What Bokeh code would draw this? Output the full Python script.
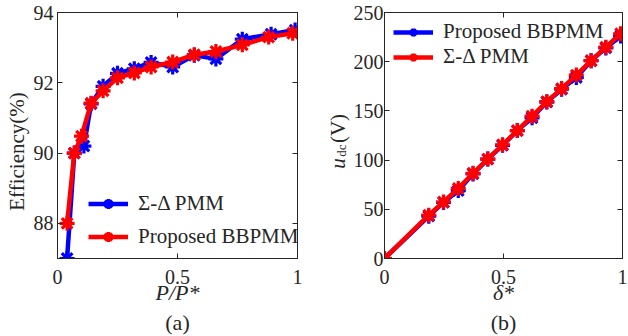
import math
from bokeh.plotting import figure
from bokeh.models import FixedTicker, LinearAxis, Range1d, Legend, LegendItem, Label, Title
from bokeh.layouts import row
from bokeh.embed import file_html
from bokeh.resources import INLINE

# ---------------- data: panel (a) ----------------
a_sd_x = [0.04, 0.07, 0.11, 0.14, 0.19, 0.25, 0.32, 0.39, 0.48, 0.57, 0.66, 0.77, 0.89, 0.99]
a_sd_y = [87.0, 90.0, 90.2, 91.4, 91.9, 92.27, 92.4, 92.58, 92.45, 92.78, 92.68, 93.24, 93.38, 93.5]
a_bb_x = [0.04, 0.07, 0.10, 0.14, 0.19, 0.25, 0.32, 0.39, 0.48, 0.57, 0.66, 0.77, 0.88, 0.98]
a_bb_y = [88.0, 90.0, 90.48, 91.42, 91.77, 92.14, 92.28, 92.45, 92.59, 92.8, 92.89, 93.08, 93.3, 93.41]
a_xticks = [0, 0.5, 1]
a_xtick_labels = ["0", "0.5", "1"]
a_yticks = [88, 90, 92, 94]
a_ytick_labels = ["88", "90", "92", "94"]

# ---------------- data: panel (b) ----------------
b_x = [0, 0.186, 0.248, 0.31, 0.372, 0.434, 0.496, 0.558, 0.62, 0.682, 0.744, 0.806, 0.868, 0.93, 0.992]
b_bb_y = [0, 43, 57, 69, 86, 101, 115, 130, 143, 159, 172, 184, 201, 214, 226]
b_sd_y = [0, 44, 57.4, 71.2, 86.6, 101, 115.6, 130, 144.6, 159.4, 172.7, 186.4, 201, 214.8, 228.4]
b_xticks = [0, 0.5, 1]
b_xtick_labels = ["0", "0.5", "1"]
b_yticks = [0, 50, 100, 150, 200, 250]
b_ytick_labels = ["0", "50", "100", "150", "200", "250"]

FONT = "Liberation Serif"
INK = "#262626"
BLUE = "#0000FF"
RED = "#FF0000"
H = 336
TOP = 12      # common frame top border (row aligns frames)
BOTTOM = 78   # common frame bottom border


def make_fig(width, xr, yr, xticks, xlabels, yticks, ylabels, bl, br, ystandoff):
    p = figure(width=width, height=H, x_range=Range1d(*xr), y_range=Range1d(*yr),
               output_backend="svg", toolbar_location=None,
               min_border_left=bl, min_border_right=br, min_border_top=TOP, min_border_bottom=BOTTOM)
    p.grid.visible = False
    p.outline_line_color = INK
    p.outline_line_width = 1
    for ax, ticks, labels in ((p.below[0], xticks, xlabels), (p.left[0], yticks, ylabels)):
        ax.ticker = FixedTicker(ticks=ticks)
        ax.major_label_overrides = {t: l for t, l in zip(ticks, labels)}
        ax.major_tick_in = 5
        ax.major_tick_out = 0
        ax.minor_tick_line_color = None
        ax.axis_line_color = INK
        ax.major_tick_line_color = INK
        ax.major_label_text_font = FONT
        ax.major_label_text_font_size = "20px"
        ax.major_label_text_color = INK
    p.below[0].major_label_standoff = 11
    p.left[0].major_label_standoff = ystandoff
    # mirrored box axes (ticks only, labels not drawn)
    for side, ticks in (("above", xticks), ("right", yticks)):
        ax = LinearAxis(ticker=FixedTicker(ticks=ticks))
        ax.major_tick_in = 5
        ax.major_tick_out = 0
        ax.minor_tick_line_color = None
        ax.axis_line_color = INK
        ax.major_tick_line_color = INK
        ax.major_label_text_font_size = "1px"
        ax.major_label_text_color = None
        ax.major_label_standoff = 0
        p.add_layout(ax, side)
    return p


def add_series(p, x, y, color):
    lr = p.line(x, y, line_color=color, line_width=4.5)
    sr = p.scatter(x, y, marker="asterisk", size=15, line_color=color, line_width=3.2)
    return [lr, sr]


def style_xlabel(p, text):
    ax = p.below[0]
    ax.axis_label = text
    ax.axis_label_text_font = FONT
    ax.axis_label_text_font_style = "italic"
    ax.axis_label_text_font_size = "22px"
    ax.axis_label_text_color = INK
    ax.axis_label_standoff = -7


def label_fig(width, labels):
    f = figure(width=width, height=H, output_backend="svg", toolbar_location=None,
               x_axis_type=None, y_axis_type=None, min_border_left=0, min_border_right=0,
               min_border_top=TOP, min_border_bottom=BOTTOM)
    f.outline_line_color = None
    for lab in labels:
        f.add_layout(lab)
    return f


def vlabel(x, y, text, size, style="normal"):
    # x, y: centre of the rotated text, in pixels from the frame's bottom-left corner
    return Label(x=x, y=y, x_units="screen", y_units="screen", angle=math.pi / 2,
                 text=text, text_font=FONT, text_font_size=size, text_font_style=style,
                 text_color=INK, text_align="center", text_baseline="middle")


def caption(text, offset):
    return Title(text=text, align="center", offset=offset, standoff=0, text_font=FONT,
                 text_font_size="22px", text_font_style="normal", text_color=INK)


# ---------------- y label of (a) ----------------
lab_a = label_fig(30, [vlabel(16, 107, "Efficiency(%)", "21px")])

# ---------------- panel (a) ----------------
pa = make_fig(293, (0, 1), (87, 94), a_xticks, a_xtick_labels, a_yticks, a_ytick_labels, 25, 26, 4)
ra1 = add_series(pa, a_sd_x, a_sd_y, BLUE)
ra2 = add_series(pa, a_bb_x, a_bb_y, RED)
style_xlabel(pa, "P/P*")
leg_a = Legend(items=[LegendItem(label="Σ-Δ PMM", renderers=ra1),
                      LegendItem(label="Proposed BBPMM", renderers=ra2)],
               location=(31, 9), label_text_font=FONT, label_text_font_size="21px",
               label_text_color=INK, glyph_width=40, glyph_height=25, label_height=25,
               spacing=8, label_standoff=10, padding=0, margin=0,
               border_line_color=None, background_fill_alpha=0)
pa.add_layout(leg_a, "center")
pa.add_layout(caption("(a)", 0), "below")

# ---------------- y label of (b) ----------------
lab_b = label_fig(27, [vlabel(14, 95, "u", "21px", "italic"),
                       vlabel(18, 108, "dc", "13px"),
                       vlabel(14, 130, "(V)", "21px")])

# ---------------- panel (b) ----------------
pb = make_fig(278, (0, 1), (0, 250), b_xticks, b_xtick_labels, b_yticks, b_ytick_labels, 31, 6, 1)
rb1 = add_series(pb, b_x, b_bb_y, BLUE)
rb2 = add_series(pb, b_x, b_sd_y, RED)
style_xlabel(pb, "δ*")
leg_b = Legend(items=[LegendItem(label="Proposed BBPMM", renderers=rb1),
                      LegendItem(label="Σ-Δ PMM", renderers=rb2)],
               location=(9, 189), label_text_font=FONT, label_text_font_size="21px",
               label_text_color=INK, glyph_width=40, glyph_height=20, label_height=20,
               spacing=-2, label_standoff=10, padding=0, margin=0,
               border_line_color=None, background_fill_alpha=0)
pb.add_layout(leg_b, "center")
pb.add_layout(caption("(b)", -6), "below")

layout = row(lab_a, pa, lab_b, pb, spacing=0)
open("out.html", "w").write(file_html(layout, INLINE))
